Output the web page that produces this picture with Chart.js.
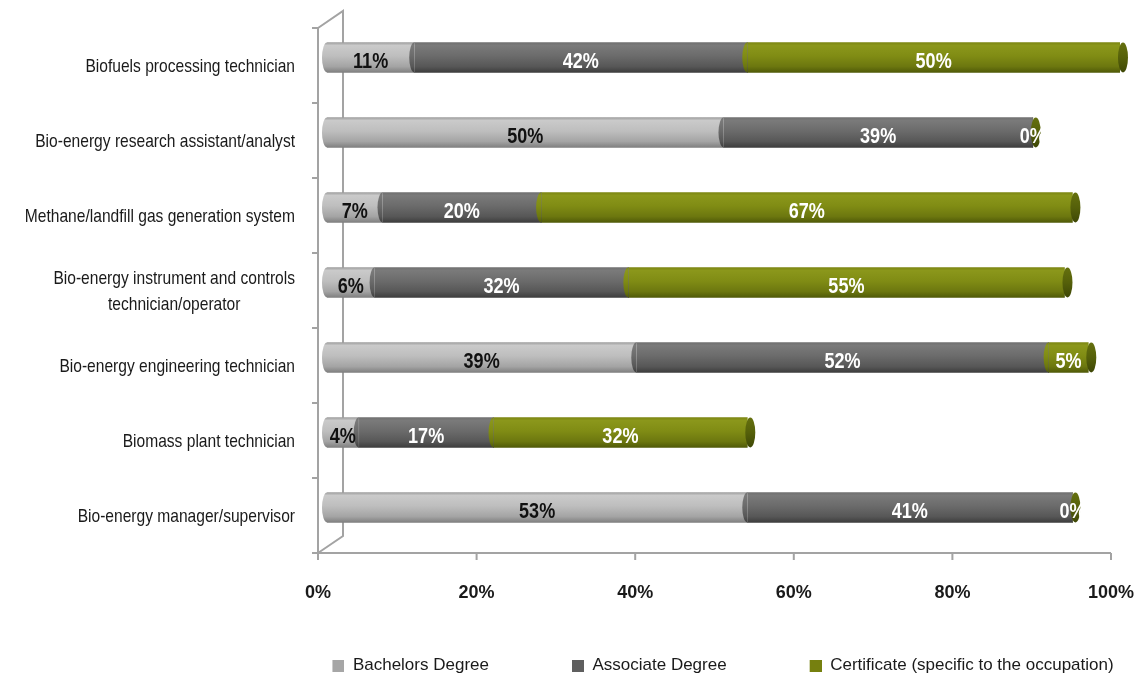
<!DOCTYPE html>
<html>
<head>
<meta charset="utf-8">
<title>Bio-energy occupations: education requirements</title>
<script src="https://cdn.jsdelivr.net/npm/chart.js@4.4.1/dist/chart.umd.min.js"></script>
<style>
  html, body { margin: 0; padding: 0; background: #ffffff; }
  canvas { display: block; }
</style>
</head>
<body>
<canvas id="chart" width="1139" height="679"></canvas>
<script>
// ---- data -------------------------------------------------------------
const categories = [
  'Biofuels processing technician',
  'Bio-energy research assistant/analyst',
  'Methane/landfill gas generation system',
  ['Bio-energy instrument and controls', 'technician/operator'],
  'Bio-energy engineering technician',
  'Biomass plant technician',
  'Bio-energy manager/supervisor'
];
const seriesNames = ['Bachelors Degree', 'Associate Degree', 'Certificate (specific to the occupation)'];
const bachelors   = [11, 50, 7, 6, 39, 4, 53];
const associate   = [42, 39, 20, 32, 52, 17, 41];
const certificate = [50, 0, 67, 55, 5, 32, 0];
const xTickValues = [0, 20, 40, 60, 80, 100];

// ---- look -------------------------------------------------------------
const FONT = '"Liberation Sans", Arial, sans-serif';
const NARROW = 0.82;    // horizontal squeeze for the condensed lettering
const INK = '#1a1a1a';
const FRAME = '#a3a3a3';
const DEPTH_X = 9;      // bars sit this far right of the front frame
const DEPTH_Y = 8;      // ... and this far above it
const WALL_DX = 25;     // side wall depth
const WALL_DY = -17;
const BAR_H = 30;
const RX = 5;           // horizontal radius of the cylinder ends

// legend geometry
const LEG_GAP = 75;     // space in front of each legend square
const LEG_PAD = 8;
const LEG_BOX = 12;
const LEG_LEFT = 232;

const styles = [
  { flat: '#a6a6a6', text: '#111111',
    stops: [[0, '#9e9e9e'], [0.1, '#cacaca'], [0.45, '#bebebe'], [0.8, '#a4a4a4'], [1, '#7f7f7f']] },
  { flat: '#5f5f5f', text: '#ffffff',
    stops: [[0, '#707070'], [0.1, '#7a7a7a'], [0.45, '#6b6b6b'], [0.8, '#575757'], [1, '#3d3d3d']] },
  { flat: '#76800f', text: '#ffffff',
    stops: [[0, '#7c8612'], [0.1, '#8b971b'], [0.45, '#808c14'], [0.8, '#6c770f'], [1, '#505a08']],
    cap: [[0, '#65700e'], [0.5, '#55600a'], [1, '#3e4706']] }
];
const capStops = styles[2].cap;

function verticalGradient(ctx, cy, h, stops) {
  const g = ctx.createLinearGradient(0, cy - h / 2, 0, cy + h / 2);
  stops.forEach(([o, c]) => g.addColorStop(o, c));
  return g;
}

function cylinderFill(k) {
  return (c) => {
    const ys = c.chart.scales && c.chart.scales.y;
    if (c.dataIndex === undefined || !ys) return styles[k].flat;
    const cy = ys.getPixelForValue(c.dataIndex);
    if (!Number.isFinite(cy)) return styles[k].flat;
    return verticalGradient(c.chart.ctx, cy, BAR_H, styles[k].stops);
  };
}

// legend markers: a square at the right end of a wider transparent strip
const legendMarkers = styles.map(s => {
  const cv = document.createElement('canvas');
  cv.width = LEG_GAP + LEG_BOX;
  cv.height = LEG_BOX;
  const c = cv.getContext('2d');
  c.fillStyle = s.flat;
  c.fillRect(LEG_GAP, 0, LEG_BOX, LEG_BOX);
  return cv;
});

function narrowText(ctx, text, x, y) {
  ctx.save();
  ctx.translate(x, y);
  ctx.scale(NARROW, 1);
  ctx.fillText(text, 0, 0);
  ctx.restore();
}

// ---- plugins ----------------------------------------------------------
// 3-D frame: side wall on the left and the floor edge with tick marks
const framePlugin = {
  id: 'frame3d',
  beforeDatasetsDraw(chart) {
    const { ctx, chartArea: a, scales } = chart;
    const fx = a.left - DEPTH_X, fTop = a.top + DEPTH_Y, fBot = a.bottom + DEPTH_Y;
    const fRight = a.right - DEPTH_X;
    ctx.save();
    ctx.strokeStyle = FRAME;
    ctx.lineWidth = 2;
    ctx.beginPath();
    ctx.moveTo(fx, fTop); ctx.lineTo(fx, fBot);
    ctx.moveTo(fx, fTop); ctx.lineTo(fx + WALL_DX, fTop + WALL_DY);
    ctx.lineTo(fx + WALL_DX, fBot + WALL_DY);
    ctx.lineTo(fx, fBot);
    ctx.moveTo(fx, fBot); ctx.lineTo(fRight, fBot);
    // category boundaries on the wall
    const n = chart.data.labels.length;
    const band = (a.bottom - a.top) / n;
    for (let k = 0; k <= n; k++) {
      const y = fTop + k * band;
      ctx.moveTo(fx - 6, y); ctx.lineTo(fx, y);
    }
    // value ticks on the floor
    xTickValues.forEach(v => {
      const x = scales.x.getPixelForValue(v) - DEPTH_X;
      ctx.moveTo(x, fBot); ctx.lineTo(x, fBot + 7);
    });
    ctx.stroke();
    ctx.restore();
  }
};

// cylinder ends and value labels on each segment
const cylinderPlugin = {
  id: 'cylinders',
  afterDatasetsDraw(chart) {
    const { ctx, chartArea: a } = chart;
    const n = chart.data.labels.length;
    const metas = chart.data.datasets.map((d, k) => chart.getDatasetMeta(k));
    ctx.save();
    const labels = [];
    for (let i = 0; i < n; i++) {
      let end = a.left, endY = 0, endH = BAR_H;
      metas.forEach((meta, k) => {
        const el = meta.data[i];
        const p = el.getProps(['x', 'y', 'base', 'height'], true);
        const x0 = Math.min(p.base, p.x);
        const x1 = Math.min(Math.max(p.base, p.x), a.right);
        if (x1 - x0 > 0.5) {
          ctx.beginPath();
          ctx.ellipse(x0, p.y, RX, p.height / 2, 0, Math.PI / 2, Math.PI * 1.5);
          ctx.closePath();
          ctx.fillStyle = verticalGradient(ctx, p.y, p.height, styles[k].stops);
          ctx.fill();
        }
        end = x1; endY = p.y; endH = p.height;
        const v = chart.data.datasets[k].data[i];
        labels.push({ text: v + '%', x: (x0 + x1) / 2, y: p.y + 4, color: styles[k].text });
      });
      // flat face of the cylinder at the right end
      ctx.beginPath();
      ctx.ellipse(end + 3, endY, RX, endH / 2, 0, 0, Math.PI * 2);
      ctx.fillStyle = verticalGradient(ctx, endY, endH, capStops);
      ctx.fill();
    }
    ctx.font = 'bold 22px ' + FONT;
    ctx.textAlign = 'center';
    ctx.textBaseline = 'middle';
    labels.forEach(l => {
      ctx.fillStyle = l.color;
      narrowText(ctx, l.text, l.x, l.y);
    });
    ctx.restore();
  }
};

// category names beside the side wall, each block centred on itself
const categoryLabelPlugin = {
  id: 'categoryLabels',
  afterDraw(chart) {
    const { ctx, chartArea: a, scales } = chart;
    const right = a.left - DEPTH_X - 23;
    const lineH = 26;
    ctx.save();
    ctx.font = '19px ' + FONT;
    ctx.fillStyle = INK;
    ctx.textAlign = 'center';
    ctx.textBaseline = 'middle';
    chart.data.labels.forEach((lab, i) => {
      const lines = Array.isArray(lab) ? lab : [lab];
      const widest = NARROW * Math.max(...lines.map(t => ctx.measureText(t).width));
      const cx = right - widest / 2;
      const cy = scales.y.getPixelForValue(i) + DEPTH_Y + 1;
      lines.forEach((t, j) => {
        narrowText(ctx, t, cx, cy + (j - (lines.length - 1) / 2) * lineH);
      });
    });
    ctx.restore();
  }
};

// ---- chart ------------------------------------------------------------
const seriesData = [bachelors, associate, certificate];

new Chart(document.getElementById('chart'), {
  type: 'bar',
  data: {
    labels: categories,
    datasets: seriesData.map((d, k) => ({
      label: seriesNames[k],
      data: d,
      backgroundColor: cylinderFill(k),
      borderWidth: 0,
      barThickness: BAR_H
    }))
  },
  options: {
    indexAxis: 'y',
    responsive: false,
    animation: false,
    devicePixelRatio: 1,
    layout: { padding: { left: LEG_LEFT, right: 0, top: 20, bottom: 0 } },
    scales: {
      x: {
        stacked: true,
        min: 0,
        max: 100,
        afterBuildTicks: s => { s.ticks = xTickValues.map(v => ({ value: v })); },
        afterFit: s => { s.height = 104; s.paddingLeft = 0; s.paddingRight = 19; },
        grid: { display: false, drawTicks: false },
        border: { display: false },
        ticks: {
          padding: 37,
          labelOffset: -DEPTH_X,
          color: INK,
          font: { family: FONT, size: 18, weight: 'bold' },
          callback: v => v + '%'
        }
      },
      y: {
        stacked: true,
        afterFit: s => { s.width = 327 - LEG_LEFT; },
        grid: { display: false, drawTicks: false },
        border: { display: false },
        ticks: { display: false }
      }
    },
    plugins: {
      tooltip: { enabled: false },
      legend: {
        position: 'bottom',
        maxHeight: 30,
        labels: {
          usePointStyle: true,
          pointStyleWidth: LEG_GAP + LEG_BOX,
          boxHeight: LEG_BOX,
          padding: LEG_PAD,
          color: INK,
          font: { family: FONT, size: 17 },
          generateLabels: chart =>
            Chart.defaults.plugins.legend.labels.generateLabels(chart).map((it, k) => ({
              ...it, pointStyle: legendMarkers[k], fillStyle: styles[k].flat,
              strokeStyle: styles[k].flat, lineWidth: 0
            }))
        }
      }
    }
  },
  plugins: [framePlugin, cylinderPlugin, categoryLabelPlugin]
});
</script>
</body>
</html>
